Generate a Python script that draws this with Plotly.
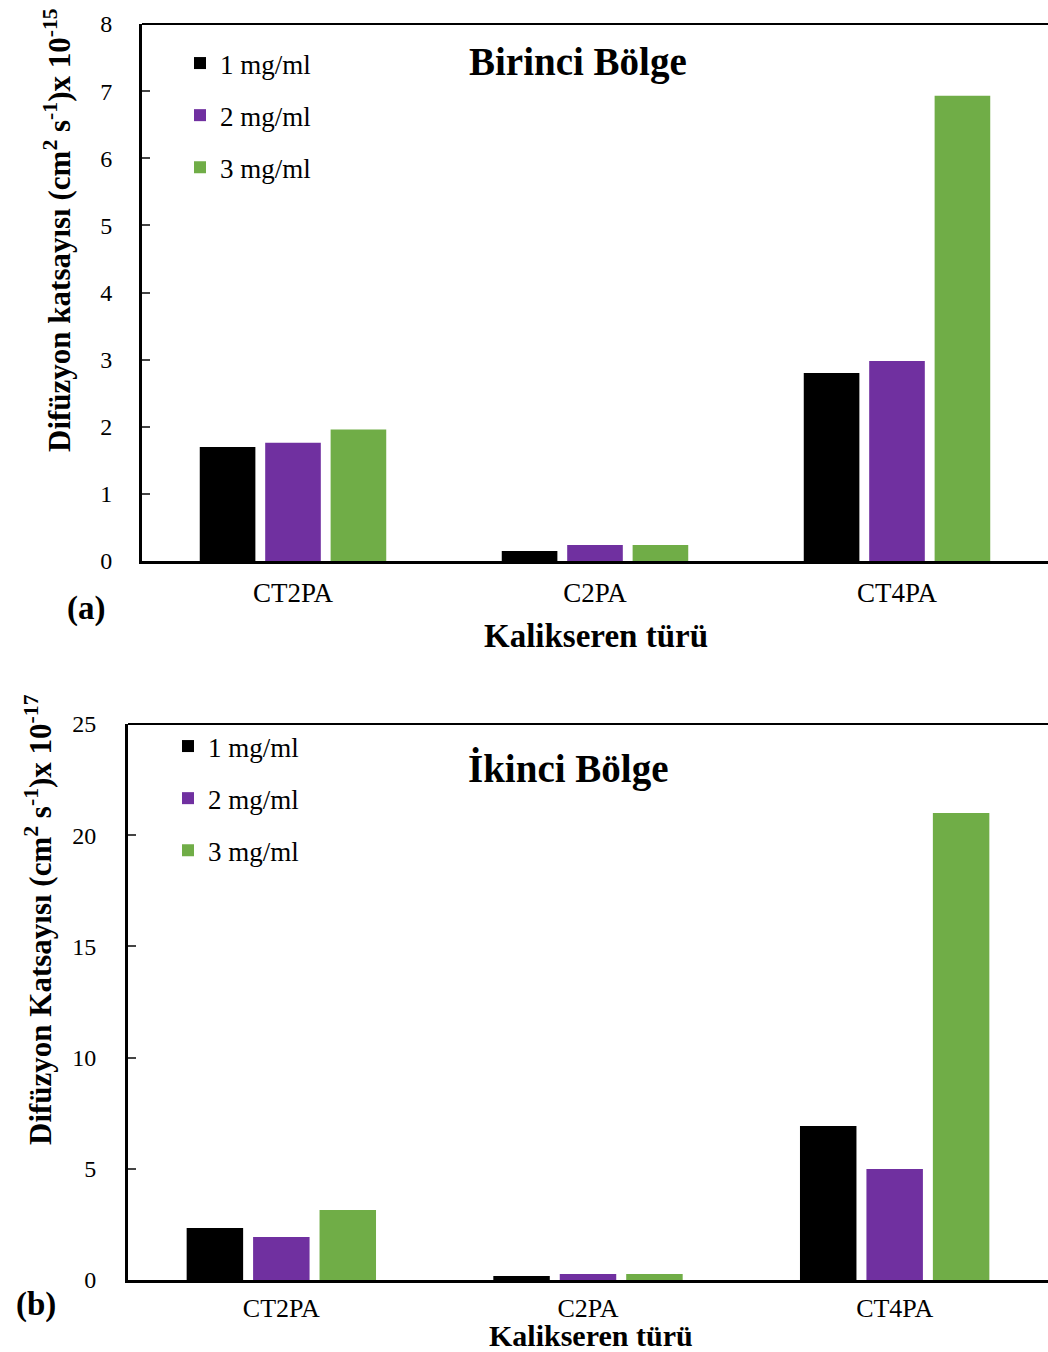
import plotly.graph_objects as go

categories = ["CT2PA", "C2PA", "CT4PA"]
series_names = ["1 mg/ml", "2 mg/ml", "3 mg/ml"]
colors = ["#000000", "#7030A0", "#70AD47"]

# Panel (a): Birinci Bölge (x 10^-15)
a_1mg = [1.70, 0.15, 2.80]
a_2mg = [1.76, 0.24, 2.98]
a_3mg = [1.96, 0.24, 6.93]

# Panel (b): İkinci Bölge (x 10^-17)
b_1mg = [2.34, 0.18, 6.92]
b_2mg = [1.93, 0.27, 4.99]
b_3mg = [3.15, 0.27, 21.0]

a_ticks = [0, 1, 2, 3, 4, 5, 6, 7, 8]
b_ticks = [0, 5, 10, 15, 20, 25]

W, H = 1048, 1352
FONT = "Liberation Serif"

fig = go.Figure()
for name, col, vals in zip(series_names, colors, [a_1mg, a_2mg, a_3mg]):
    fig.add_trace(go.Bar(x=categories, y=vals, name=name, marker=dict(color=col, line=dict(width=0)),
                         xaxis="x", yaxis="y", legend="legend", legendgroup="a" + name))
for name, col, vals in zip(series_names, colors, [b_1mg, b_2mg, b_3mg]):
    fig.add_trace(go.Bar(x=categories, y=vals, name=name, marker=dict(color=col, line=dict(width=0)),
                         xaxis="x2", yaxis="y2", legend="legend2", legendgroup="b" + name))

def py(pix):
    return 1 - pix / H

def px(pix):
    return pix / W

ytick_font = dict(family=FONT, size=24, color="black")
leg_font = dict(family=FONT, size=27, color="black")

fig.update_layout(
    width=W, height=H,
    margin=dict(l=0, r=0, t=0, b=0, pad=0, autoexpand=False),
    paper_bgcolor="white", plot_bgcolor="white",
    barmode="group", bargap=0.35, bargroupgap=0.15,
    font=dict(family=FONT, color="black"),
    xaxis=dict(domain=[px(142), 1], anchor="y", showline=True, linewidth=3, linecolor="black",
               showgrid=False, zeroline=False, ticks="", ticklabelstandoff=6,
               tickfont=dict(family=FONT, size=27, color="black"), automargin=False),
    yaxis=dict(domain=[py(561), py(24)], anchor="x", range=[0, 8], tickvals=a_ticks,
               showline=True, linewidth=3, linecolor="black", showgrid=False, zeroline=False,
               ticks="inside", ticklen=8, tickwidth=2, ticklabelstandoff=22, tickfont=ytick_font,
               automargin=False),
    xaxis2=dict(domain=[px(128), 1], anchor="y2", showline=True, linewidth=3, linecolor="black",
                showgrid=False, zeroline=False, ticks="", ticklabelstandoff=3,
                tickfont=dict(family=FONT, size=26, color="black"), automargin=False),
    yaxis2=dict(domain=[py(1280), py(724)], anchor="x2", range=[0, 25], tickvals=b_ticks,
                showline=True, linewidth=3, linecolor="black", showgrid=False, zeroline=False,
                ticks="inside", ticklen=8, tickwidth=2, ticklabelstandoff=24, tickfont=ytick_font,
                automargin=False),
    legend=dict(x=px(180), y=py(39), xanchor="left", yanchor="top", bgcolor="rgba(0,0,0,0)",
                font=leg_font, tracegroupgap=14, itemwidth=30),
    legend2=dict(x=px(168), y=py(722), xanchor="left", yanchor="top", bgcolor="rgba(0,0,0,0)",
                 font=leg_font, tracegroupgap=14, itemwidth=30),
    showlegend=True,
)

# top borders of the frames
fig.add_shape(type="line", xref="paper", yref="paper", x0=px(142), x1=1, y0=py(24), y1=py(24),
              line=dict(color="black", width=2))
fig.add_shape(type="line", xref="paper", yref="paper", x0=px(128), x1=1, y0=py(724), y1=py(724),
              line=dict(color="black", width=2))

ann = []
ann.append(dict(text="<b>Birinci Bölge</b>", x=px(578), y=py(62), font=dict(size=39)))
ann.append(dict(text="<b>İkinci Bölge</b>", x=px(568), y=py(769), font=dict(size=39)))
ann.append(dict(text="<b>Kalikseren türü</b>", x=px(596), y=py(636), font=dict(size=33)))
ann.append(dict(text="<b>Kalikseren türü</b>", x=px(591), y=py(1335), font=dict(size=30)))
ann.append(dict(text="<b>(a)</b>", x=px(86), y=py(608), font=dict(size=33)))
ann.append(dict(text="<b>(b)</b>", x=px(36), y=py(1304), font=dict(size=33)))
ann.append(dict(text="<b>Difüzyon katsayısı (cm<sup>2</sup> s<sup>-1</sup>)x 10<sup>-15</sup></b>",
                x=px(57), y=py(230), textangle=-90, font=dict(size=31)))
ann.append(dict(text="<b>Difüzyon Katsayısı (cm<sup>2</sup> s<sup>-1</sup>)x 10<sup>-17</sup></b>",
                x=px(38), y=py(920), textangle=-90, font=dict(size=31)))
for a in ann:
    a.update(xref="paper", yref="paper", showarrow=False, xanchor="center", yanchor="middle")
    a["font"].update(family=FONT, color="black")
fig.update_layout(annotations=ann)

fig.write_html("out.html",
               post_script="document.body.style.margin='0';document.body.style.padding='0';")
